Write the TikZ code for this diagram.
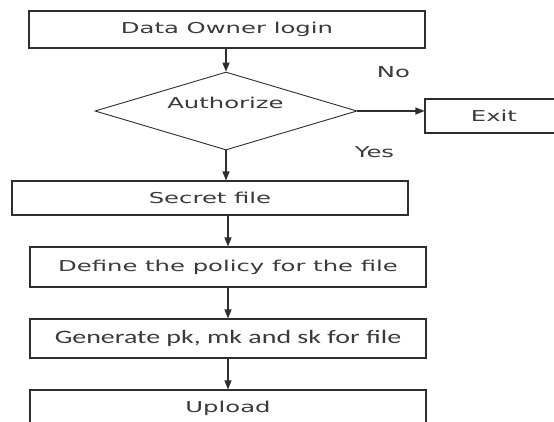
\documentclass[tikz,border=0pt]{standalone}
\usepackage{fontspec}
\usepackage{graphicx}
\setmainfont{DejaVu Sans}
\newfontfamily\calib{Carlito}
\usetikzlibrary{shapes.geometric,arrows.meta}

% wide, flat lettering used in every label
\newcommand{\widetext}[1]{\scalebox{1.62}[1]{#1}}
\newcommand{\widecalib}[1]{\scalebox{1.47}[1]{\calib\fontsize{19}{22}\selectfont #1}}

\definecolor{ink}{HTML}{2E2E2E}
\definecolor{txt}{HTML}{3A3A3A}

\begin{document}
\begin{tikzpicture}[x=1pt,y=-1pt,
  lbl/.style={text=txt,font=\fontsize{15}{18}\selectfont,inner sep=0pt},
  stepbox/.style={draw=ink,line width=1.1pt,rectangle,inner sep=0pt,
    text=txt,font=\fontsize{15}{18}\selectfont,minimum width=396pt},
  decide/.style={draw=ink,line width=0.9pt,diamond,inner sep=0pt,
    minimum width=262pt,minimum height=78pt},
  arr/.style={draw=ink,line width=1.1pt,-{Triangle[length=9pt,width=7pt]}}]

\useasboundingbox (0,0) rectangle (554,421);
\clip (0,0) rectangle (554,421);
\fill[white] (0,0) rectangle (554,421);

% boxes of the flow
\node[stepbox,minimum height=37pt] (login)  at (227,29.5) {\widetext{Data Owner login}};
\node[decide]                      (auth)   at (226,111) {};
\node[lbl]                         (authtx) at (225.5,103) {\widetext{Authorize}};
\node[stepbox,minimum width=138pt,minimum height=34pt] (exit) at (494,116) {\widetext{Exit}};
\node[stepbox,minimum height=34pt] (secret) at (210,198) {\widetext{Secret file}};
\node[stepbox,minimum height=40pt] (policy) at (228,267) {\widetext{Define the policy for the file}};
\node[stepbox,minimum height=39pt] (keys)   at (228,338.5) {\widecalib{Generate pk, mk and sk for file}};
\node[stepbox,minimum height=36pt] (upload) at (228,408) {\widetext{Upload}};

% branch labels
\node[lbl] (no)  at (393.5,72.5) {\widetext{No}};
\node[lbl] (yes) at (374.5,152.5) {\widetext{Yes}};

% connectors
\draw[arr] (auth.north |- login.south) -- (auth.north);
\draw[arr] (auth.east) -- (auth.east -| exit.west);
\draw[arr] (auth.south) -- (auth.south |- secret.north);
\draw[arr] (policy.north |- secret.south) -- (policy.north);
\draw[arr] (policy.south) -- (keys.north);
\draw[arr] (keys.south) -- (upload.north);
\end{tikzpicture}
\end{document}
